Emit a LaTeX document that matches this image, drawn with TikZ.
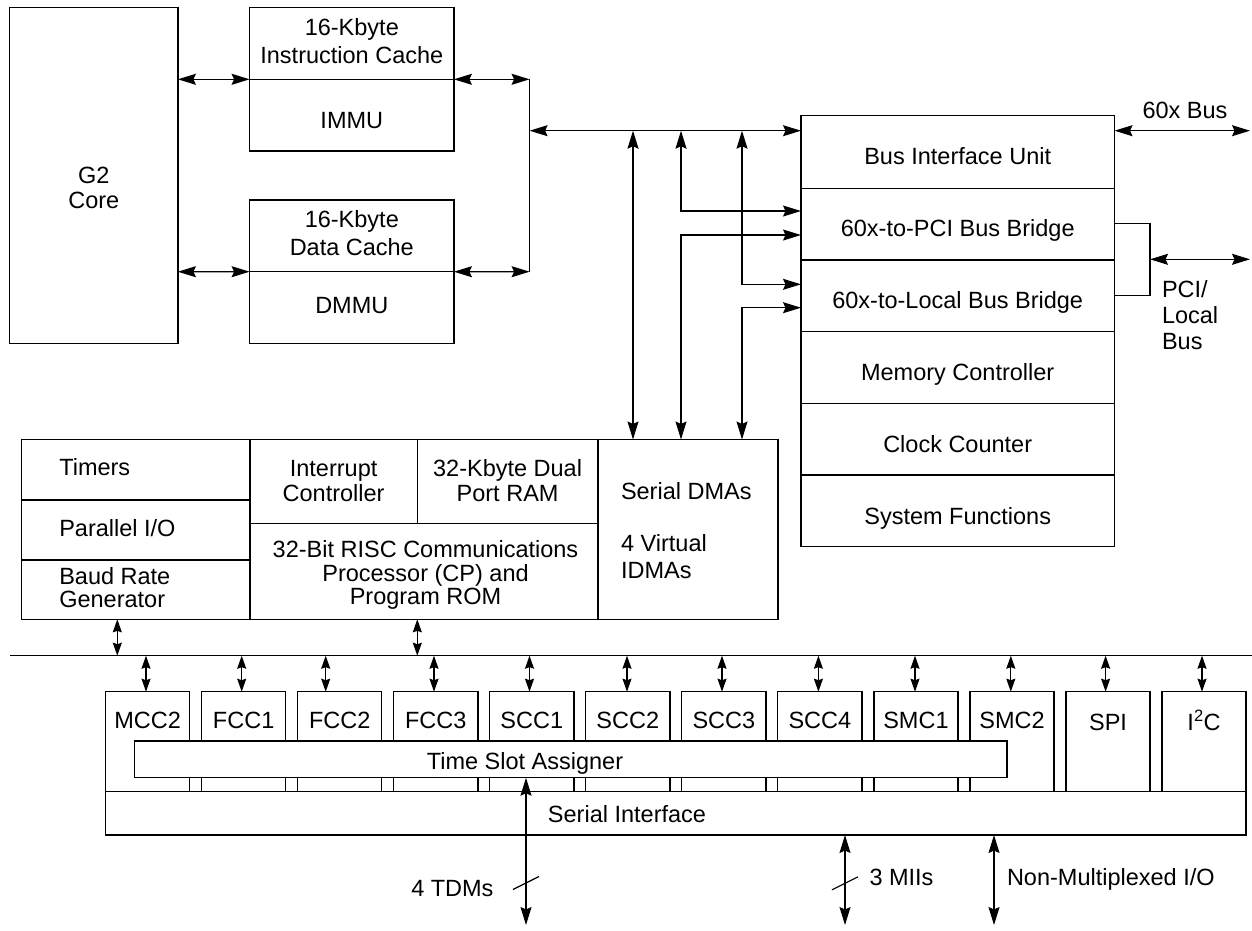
\documentclass[tikz,border=0pt]{standalone}
\usepackage{fontspec}
\setmainfont{Liberation Sans}
\usetikzlibrary{arrows.meta}
\newcommand\MLc[2]{\fontsize{23.5}{#1}\selectfont\begin{tabular}[t]{@{}c@{}}#2\end{tabular}}
\newcommand\MLl[2]{\fontsize{23.5}{#1}\selectfont\begin{tabular}[t]{@{}l@{}}#2\end{tabular}}
\newcommand\blockbox[6]{%
  \node[blk, minimum width={#4-#2}, minimum height={#5-#3}, #6] (#1) at ({(#2+#4)/2},{(#3+#5)/2}) {};}
\tikzset{
  blk/.style={draw, line width=1.4pt, inner sep=0pt, outer sep=0pt},
  lbl/.style={inner sep=0pt, outer sep=0pt},
  conn/.style={line width=1.2pt},
  big/.style={conn, {Stealth[length=18pt,width=11pt,inset=2.5pt]}-{Stealth[length=18pt,width=11pt,inset=2.5pt]}},
  sm/.style={conn, {Stealth[length=13pt,width=9pt,inset=1.5pt]}-{Stealth[length=13pt,width=9pt,inset=1.5pt]}},
}
\begin{document}
\begin{tikzpicture}[x=1pt,y=-1pt,font=\fontsize{23.5}{26}\selectfont]
\useasboundingbox (0,0) rectangle (1252,930);

% ---------- top left: core and caches
\blockbox{g2}{9.6}{7.3}{177.9}{343.3}{}
\blockbox{icache}{249.6}{7.3}{453.9}{79.3}{}
\blockbox{immu}{249.6}{79.3}{453.9}{151}{}
\blockbox{dcache}{249.6}{200}{453.9}{271.7}{}
\blockbox{dmmu}{249.6}{271.7}{453.9}{343.3}{}

\node[lbl,anchor=base] (g2t) at (93.8,183.3) {\MLc{25}{G2\\Core}};
\node[lbl,anchor=base] (ict) at (351.8,35.3) {\MLc{28}{16-Kbyte\\Instruction Cache}};
\node[lbl,anchor=base] (immut) at (351.8,128.3) {IMMU};
\node[lbl,anchor=base] (dct) at (351.8,227.7) {\MLc{27.5}{16-Kbyte\\Data Cache}};
\node[lbl,anchor=base] (dmmut) at (351.8,313.3) {DMMU};

% ---------- right: bus interface column
\blockbox{biu1}{801}{115.7}{1114.5}{188.3}{}
\blockbox{biu2}{801}{188.3}{1114.5}{259.8}{}
\blockbox{biu3}{801}{259.8}{1114.5}{331.3}{}
\blockbox{biu4}{801}{331.3}{1114.5}{403.3}{}
\blockbox{biu5}{801}{403.3}{1114.5}{475}{}
\blockbox{biu6}{801}{475}{1114.5}{546.3}{}
\node[lbl,anchor=base] (biu1t) at (957.7,164) {Bus Interface Unit};
\node[lbl,anchor=base] (biu2t) at (957.7,236) {60x-to-PCI Bus Bridge};
\node[lbl,anchor=base] (biu3t) at (957.7,308) {60x-to-Local Bus Bridge};
\node[lbl,anchor=base] (biu4t) at (957.7,380) {Memory Controller};
\node[lbl,anchor=base] (biu5t) at (957.7,452) {Clock Counter};
\node[lbl,anchor=base] (biu6t) at (957.7,524) {System Functions};
\node[lbl,anchor=base] (busxt) at (1185,118.3) {60x Bus};
\node[lbl,anchor=base west] (pcit) at (1162,297.3) {\MLl{26}{PCI/\\Local\\Bus}};

% ---------- communications processor block
\blockbox{timers}{21.5}{439.5}{250}{500}{}
\blockbox{pio}{21.5}{500}{250}{560}{}
\blockbox{brg}{21.5}{560}{250}{619.3}{}
\blockbox{intc}{250}{439.5}{417.3}{523.3}{}
\blockbox{dpram}{417.3}{439.5}{598}{523.3}{}
\blockbox{cp}{250}{523.3}{598}{619.3}{}
\blockbox{sdma}{598}{439.5}{778}{619.3}{}
\node[lbl,anchor=base west] (timerst) at (59.3,475.7) {Timers};
\node[lbl,anchor=base west] (piot) at (59.3,536.7) {Parallel I/O};
\node[lbl,anchor=base west] (brgt) at (59.3,584) {\MLl{23.3}{Baud Rate\\Generator}};
\node[lbl,anchor=base] (intct) at (333.6,476.7) {\MLc{24.3}{Interrupt\\Controller}};
\node[lbl,anchor=base] (dpramt) at (507.6,476.7) {\MLc{24.3}{32-Kbyte Dual\\Port RAM}};
\node[lbl,anchor=base] (cpt) at (425.5,557.7) {\MLc{23}{32-Bit RISC Communications\\Processor (CP) and\\Program ROM}};
\node[lbl,anchor=base west] (sdmat) at (621,499.5) {Serial DMAs};
\node[lbl,anchor=base west] (idmat) at (621,551.5) {\MLl{27.3}{4 Virtual\\IDMAs}};

% ---------- peripherals
\foreach \i/\lab/\bl in {0/MCC2/728.3,1/FCC1/728.3,2/FCC2/728.3,3/FCC3/728.3,4/SCC1/728.3,5/SCC2/728.3,6/SCC3/728.3,7/SCC4/728.3,8/SMC1/728.3,9/SMC2/728.3,10/SPI/730.7,11/{I\textsuperscript{2}C}/730.7}{
  \pgfmathsetmacro\xl{105.5+96.04*\i}
  \pgfmathsetmacro\xr{\xl+84.2}
  \blockbox{per\i}{\xl}{691.7}{\xr}{791.7}{}
  \node[lbl,anchor=base] (perl\i) at ({(\xl+\xr)/2},\bl) {\lab};
}
\blockbox{tsa}{134.4}{741}{1007}{777.7}{fill=white}
\blockbox{ser}{105.5}{791.7}{1246}{835}{}
\node[lbl,anchor=base] (tsat) at (525,769.3) {Time Slot Assigner};
\node[lbl,anchor=base] (sert) at (627,822.5) {Serial Interface};

% ---------- top connectors
\coordinate (jt) at (529.6,79.3);
\coordinate (jb) at (529.6,271.7);
\coordinate (jm) at (529.6,130.7);
\draw[big] (g2.east |- immu.north) -- (icache.south west);
\draw[big] (g2.east |- dmmu.north) -- (dcache.south west);
\draw[big] (icache.south east) -- (jt);
\draw[big] (dcache.south east) -- (jb);
\draw[conn] (jt) -- (jb);
\draw[big] (jm) -- (biu1.west |- jm);

\coordinate (t1) at (633,130.7);
\coordinate (t2) at (681,130.7);
\coordinate (t3) at (742,130.7);
\coordinate (a1) at (801,211);
\coordinate (a2) at (801,235);
\coordinate (a3) at (801,284.3);
\coordinate (a4) at (801,307.7);
\draw[big] (t1) -- (t1 |- sdma.north);
\draw[big] (t2) |- (a1);
\draw[big] (a2) -| (t2 |- sdma.north);
\draw[big] (t3) |- (a3);
\draw[big] (a4) -| (t3 |- sdma.north);

% right side buses
\coordinate (xbusR) at (1250,130.7);
\draw[big] (biu1.east |- xbusR) -- (xbusR);
\coordinate (pciA) at (1150,223.3);
\coordinate (pciB) at (1150,295.7);
\coordinate (pciM) at (1150,259.3);
\coordinate (pciR) at (1250,259.3);
\draw[conn] (biu2.east |- pciA) -- (pciA) -- (pciB) -- (biu3.east |- pciB);
\draw[big] (pciM) -- (pciR);

% ---------- lower bus
\coordinate (busL) at (10,655.7);
\coordinate (busR) at (1252,655.7);
\draw[conn] (busL) -- (busR);
\coordinate (u1) at (117.3,655.7);
\coordinate (u2) at (417.3,655.7);
\draw[sm] (u1 |- brg.south) -- (u1);
\draw[sm] (u2 |- cp.south) -- (u2);
\foreach \i/\ax in {0/146,1/241.7,2/325.7,3/434,4/529.5,5/627,6/722,7/818.4,8/915,9/1010.8,10/1105.6,11/1202}{
  \coordinate (d\i) at (\ax,655.7);
  \draw[sm] (d\i) -- (d\i |- per\i.north);
}

% ---------- external I/O
\coordinate (tdmB) at (526,925);
\coordinate (miiB) at (845,925);
\coordinate (nmB) at (994,925);
\draw[big] (tdmB |- tsa.south) -- (tdmB);
\draw[big] (miiB |- ser.south) -- (miiB);
\draw[big] (nmB |- ser.south) -- (nmB);
\coordinate (tdmS) at (526,883);
\coordinate (miiS) at (845,883.3);
\draw[conn] ([shift={(-13,6.5)}]tdmS) -- ([shift={(13,-6.5)}]tdmS);
\draw[conn] ([shift={(-13,6.5)}]miiS) -- ([shift={(13,-6.5)}]miiS);
\node[lbl,anchor=base east] (tdmt) at (493.5,896) {4 TDMs};
\node[lbl,anchor=base west] (miit) at (869.5,885) {3 MIIs};
\node[lbl,anchor=base west] (nmt) at (1007,885) {Non-Multiplexed I/O};
\end{tikzpicture}
\end{document}
